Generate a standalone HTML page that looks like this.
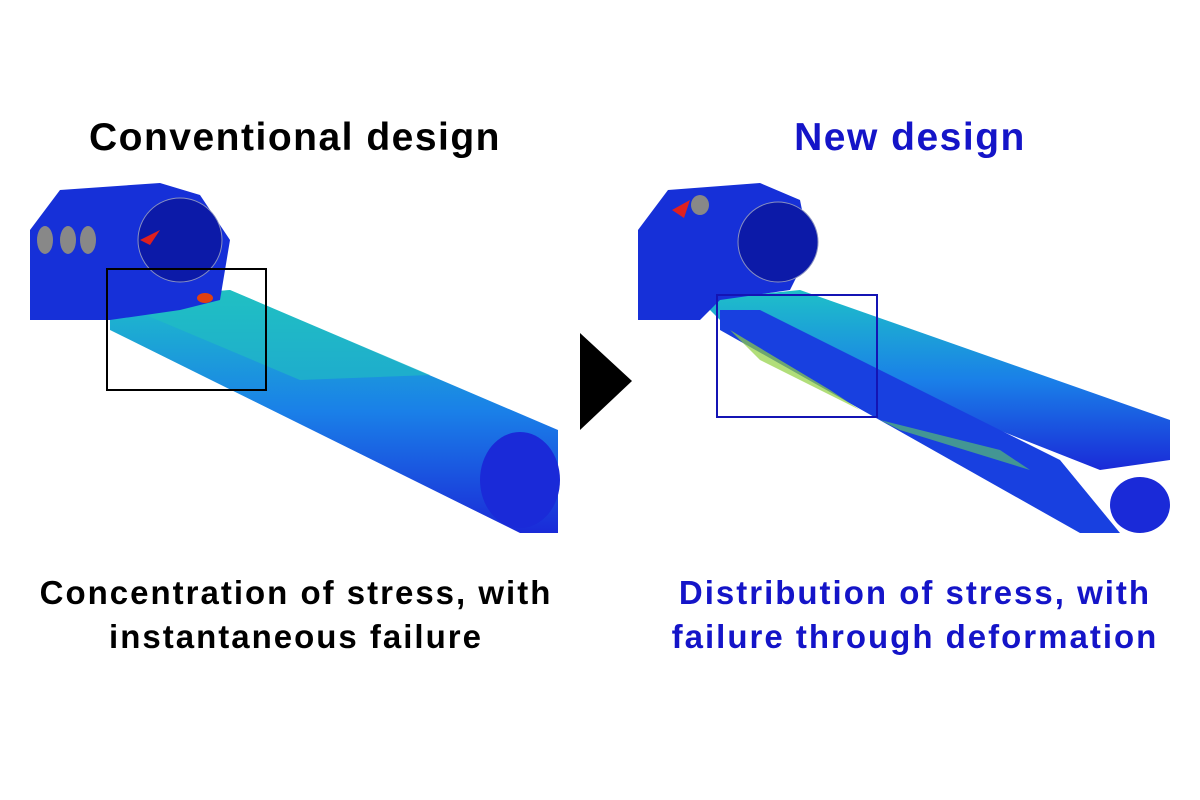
<!DOCTYPE html>
<html><head><meta charset="utf-8"><style>
body{margin:0;width:1200px;height:800px;background:#fff;overflow:hidden;font-family:"Liberation Sans",sans-serif;position:relative}
.t{position:absolute;text-align:center;font-size:39px;font-weight:bold;letter-spacing:1.5px;white-space:nowrap}
.c{position:absolute;text-align:center;font-size:33px;font-weight:bold;letter-spacing:2px;line-height:44px;white-space:nowrap}
</style></head><body>
<div class="t" style="left:0;width:590px;top:116px;color:#000">Conventional design</div>
<div class="t" style="left:615px;width:590px;top:116px;color:#1414c8">New design</div>
<svg width="1200" height="800" style="position:absolute;left:0;top:0">
<defs>
<linearGradient id="tb" x1="0" y1="0" x2="0" y2="1">
<stop offset="0" stop-color="#1ec0c8"/><stop offset="0.5" stop-color="#1a80e8"/><stop offset="1" stop-color="#1a2ad8"/></linearGradient>
</defs>
<polygon points="110,300 230,290 558,430 558,533 520,533 110,330" fill="url(#tb)"/>
<polygon points="110,300 230,290 430,375 300,380" fill="#22c0c0" opacity="0.6"/>
<path d="M30,230 L60,190 L160,183 L200,195 L230,240 L220,300 L180,310 L110,320 L30,320 Z" fill="#1630d8"/>
<circle cx="180" cy="240" r="42" fill="#0c1aa8" stroke="#8890c0"/>
<ellipse cx="45" cy="240" rx="8" ry="14" fill="#888"/><ellipse cx="68" cy="240" rx="8" ry="14" fill="#888"/><ellipse cx="88" cy="240" rx="8" ry="14" fill="#888"/>
<path d="M140,240 L160,230 L150,245Z" fill="#e02020"/>
<ellipse cx="205" cy="298" rx="8" ry="5" fill="#e04010"/>
<ellipse cx="520" cy="480" rx="40" ry="48" fill="#1a2ad8"/>
<rect x="107" y="269" width="159" height="121" fill="none" stroke="#000" stroke-width="2"/>
<polygon points="580,333 632,381 580,430" fill="#000"/>
<polygon points="700,300 800,290 1170,420 1170,460 1100,470 720,320" fill="url(#tb)"/>
<polygon points="720,310 760,310 1060,460 1120,533 1080,533 720,330" fill="#1840e0"/>
<path d="M730,330 L830,390 L860,410 L760,360Z" fill="#90d040" opacity="0.7"/>
<path d="M880,420 L1000,450 L1030,470 L900,430Z" fill="#60d060" opacity="0.6"/>
<path d="M638,230 L668,190 L760,183 L800,200 L810,250 L790,290 L720,300 L700,320 L638,320 Z" fill="#1630d8"/>
<circle cx="778" cy="242" r="40" fill="#0c1aa8" stroke="#8890c0"/>
<path d="M672,210 L690,200 L684,218Z" fill="#e02020"/>
<ellipse cx="700" cy="205" rx="9" ry="10" fill="#888"/>
<ellipse cx="1140" cy="505" rx="30" ry="28" fill="#1a2ad8"/>
<rect x="717" y="295" width="160" height="122" fill="none" stroke="#1414b4" stroke-width="2"/>
</svg>
<div class="c" style="left:0;width:592px;top:571px;color:#000">Concentration of stress, with<br>instantaneous failure</div>
<div class="c" style="left:620px;width:590px;top:571px;color:#1414c8">Distribution of stress, with<br>failure through deformation</div>
</body></html>
